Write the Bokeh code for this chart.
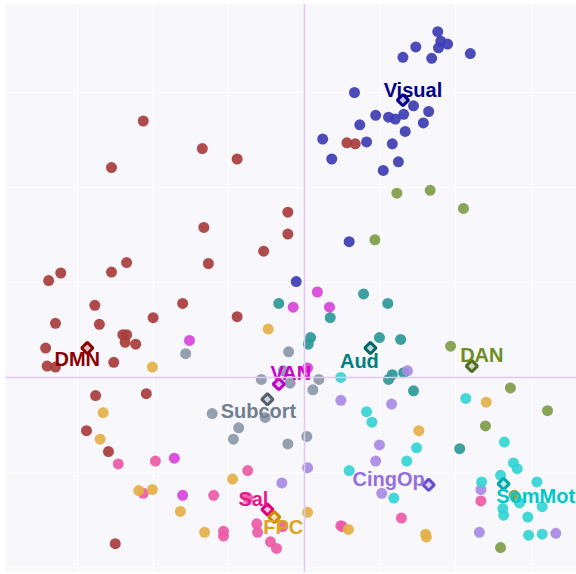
from bokeh.plotting import figure
from bokeh.models import ColumnDataSource, Range1d, FixedTicker, Span
from bokeh.core.properties import value
from bokeh.embed import file_html
from bokeh.resources import INLINE

# ---- region coordinates per network (gradient 1 on x, gradient 2 on y) ----
dmn_x = [-0.213, -0.255, -0.135, -0.089, -0.133, -0.127, -0.054, -0.022, -0.022, -0.338,
         -0.322, -0.255, -0.235, 0.056, 0.067, -0.277, -0.161, -0.329, -0.271, -0.200,
         -0.089, -0.240, -0.235, -0.237, -0.223, -0.342, -0.340, -0.329, -0.252, -0.276,
         -0.209, -0.288, -0.259, -0.250]
dmn_y = [0.270, 0.221, 0.241, 0.230, 0.158, 0.120, 0.133, 0.174, 0.151, 0.102,
         0.110, 0.111, 0.121, 0.247, 0.246, 0.076, 0.078, 0.057, 0.056, 0.063,
         0.064, 0.045, 0.045, 0.037, 0.035, 0.031, 0.012, 0.011, 0.016, -0.019,
         -0.017, -0.056, -0.078, -0.175]

visual_x = [0.176, 0.180, 0.189, 0.177, 0.147, 0.219, 0.130, 0.168, 0.066, 0.144,
            0.164, 0.094, 0.111, 0.120, 0.131, 0.157, 0.073, 0.133, 0.024, 0.082,
            0.116, 0.036, 0.124, 0.104, 0.059, -0.011]
visual_y = [0.364, 0.354, 0.351, 0.347, 0.348, 0.341, 0.337, 0.336, 0.300, 0.286,
            0.280, 0.276, 0.274, 0.272, 0.277, 0.268, 0.266, 0.259, 0.251, 0.248,
            0.246, 0.230, 0.227, 0.218, 0.143, 0.101]

dan_x = [0.122, 0.166, 0.210, 0.093, 0.193, 0.272, 0.321, 0.239, 0.259, 0.277]
dan_y = [0.194, 0.197, 0.178, 0.145, 0.033, -0.011, -0.035, -0.051, -0.179, -0.124]

aud_x = [-0.034, 0.078, 0.110, 0.034, 0.008, 0.005, 0.099, 0.127, 0.116, 0.111,
         0.131, 0.144, 0.205]
aud_y = [0.078, 0.088, 0.078, 0.063, 0.042, 0.035, 0.042, 0.040, 0.003, -0.002,
         0.005, -0.014, -0.075]

van_x = [-0.152, -0.172, -0.161, 0.017, -0.015, 0.033, 0.004]
van_y = [0.039, -0.085, -0.124, 0.090, 0.074, 0.074, 0.010]

subcort_x = [-0.157, -0.021, -0.057, -0.019, 0.019, 0.011, -0.122, -0.052, -0.087,
             -0.094, -0.022, 0.003, -0.028]
subcort_y = [0.025, 0.027, -0.002, -0.006, -0.002, -0.013, -0.038, -0.042, -0.053,
             -0.065, -0.070, -0.062, 0.007]

cingop_x = [0.136, 0.048, 0.115, 0.099, 0.094, 0.102, 0.004, -0.030, 0.233, 0.231, 0.332]
cingop_y = [0.007, -0.024, -0.028, -0.071, -0.088, -0.122, -0.095, -0.111, -0.118,
            -0.163, -0.164]

sommot_x = [0.048, 0.082, 0.089, 0.213, 0.148, 0.135, 0.059, 0.118, 0.264, 0.276,
            0.281, 0.259, 0.234, 0.307, 0.284, 0.314, 0.262, 0.263, 0.295, 0.296, 0.314]
sommot_y = [0.000, -0.036, -0.047, -0.022, -0.074, -0.088, -0.098, -0.127, -0.068,
            -0.090, -0.096, -0.103, -0.110, -0.110, -0.132, -0.136, -0.138, -0.145,
            -0.147, -0.166, -0.165]

sal_x = [-0.246, -0.197, -0.213, -0.120, -0.075, -0.075, -0.063, -0.062, -0.107,
         -0.107, -0.045, -0.037, 0.233, 0.128, 0.048, 0.050, -0.029]
sal_y = [-0.091, -0.088, -0.122, -0.124, -0.098, -0.127, -0.154, -0.163, -0.162,
         -0.167, -0.173, -0.180, -0.130, -0.148, -0.156, -0.157, -0.157]

fpc_x = [-0.048, -0.201, -0.266, -0.270, -0.219, -0.201, -0.095, -0.164, -0.132,
         0.004, 0.240, 0.151, 0.058, 0.160, 0.161]
fpc_y = [0.051, 0.011, -0.037, -0.065, -0.119, -0.118, -0.107, -0.141, -0.163,
         -0.142, -0.026, -0.056, -0.160, -0.165, -0.168]

# network centroids
networks = ["DMN", "Visual", "DAN", "Aud", "VAN", "Subcort", "CingOp", "SomMot", "Sal", "FPC"]
centroid_x = [-0.287, 0.130, 0.221, 0.087, -0.034, -0.049, 0.164, 0.263, -0.049, -0.040]
centroid_y = [0.031, 0.292, 0.012, 0.031, -0.007, -0.023, -0.113, -0.112, -0.139, -0.147]

grid_ticks_x = [-0.4, -0.3, -0.2, -0.1, 0.0, 0.1, 0.2, 0.3]
grid_ticks_y = [-0.2, -0.1, 0.0, 0.1, 0.2, 0.3]

points = {
    "DMN": (dmn_x, dmn_y), "Visual": (visual_x, visual_y), "DAN": (dan_x, dan_y),
    "Aud": (aud_x, aud_y), "VAN": (van_x, van_y), "Subcort": (subcort_x, subcort_y),
    "CingOp": (cingop_x, cingop_y), "SomMot": (sommot_x, sommot_y),
    "Sal": (sal_x, sal_y), "FPC": (fpc_x, fpc_y),
}

# colours: (dots, label text, centroid outline)
style = {
    "DMN": ("#a83c3c", "#8b0000", "#8b0000"),
    "Visual": ("#3c3cb4", "#00008b", "#00008b"),
    "DAN": ("#7f9c48", "#6b8e23", "#4f6b1f"),
    "Aud": ("#2c9898", "#008080", "#006666"),
    "VAN": ("#d843dc", "#cc00cc", "#c000c0"),
    "Subcort": ("#8a98a8", "#708090", "#56616e"),
    "CingOp": ("#a88ae4", "#9370db", "#6a4fc8"),
    "SomMot": ("#34d4d4", "#00c8c8", "#00a8a8"),
    "Sal": ("#ec5aa8", "#e8178a", "#e0007f"),
    "FPC": ("#e4b048", "#daa520", "#cc8800"),
}

# label placement relative to each centroid, in screen pixels
label_offset = {
    "DMN": (-10, 11), "Visual": (10, -10), "DAN": (10, -11), "Aud": (-11, 13),
    "VAN": (12, -11), "Subcort": (-9, 12), "CingOp": (-40, -6), "SomMot": (32, 12),
    "Sal": (-14, -11), "FPC": (9, 10),
}

p = figure(width=576, height=574, output_backend="svg", toolbar_location=None,
           x_range=Range1d(-0.395, 0.3593), y_range=Range1d(-0.2053, 0.3937),
           min_border_left=5, min_border_top=3, min_border_right=0, min_border_bottom=2)
p.background_fill_color = "#f7f7fc"
p.border_fill_color = "#ffffff"
p.outline_line_color = None
p.xaxis.ticker = FixedTicker(ticks=grid_ticks_x)
p.yaxis.ticker = FixedTicker(ticks=grid_ticks_y)
p.xaxis.visible = False
p.yaxis.visible = False
p.xgrid.grid_line_color = "#ffffff"
p.ygrid.grid_line_color = "#ffffff"
p.xgrid.grid_line_width = 1
p.ygrid.grid_line_width = 1

# zero lines
p.add_layout(Span(location=0, dimension="height", line_color="#e2c8f0", line_width=1.5))
p.add_layout(Span(location=0, dimension="width", line_color="#e2c8f0", line_width=1.5))

for name in networks:
    xs, ys = points[name]
    p.scatter(xs, ys, size=11, fill_color=style[name][0], fill_alpha=0.92,
              line_color=None)

cent = ColumnDataSource(dict(
    x=centroid_x, y=centroid_y, name=networks,
    line=[style[n][2] for n in networks],
    txt=[style[n][1] for n in networks],
    dx=[label_offset[n][0] for n in networks],
    dy=[label_offset[n][1] for n in networks],
))
p.scatter("x", "y", source=cent, marker="square", angle=0.785398, size=8,
          fill_color="line", fill_alpha=0.22, line_color="line", line_width=3)
p.text("x", "y", text="name", source=cent, x_offset="dx", y_offset="dy",
       text_align="center", text_baseline="middle", text_color="txt",
       text_font=value("Liberation Sans"), text_font_style="bold",
       text_font_size="20px")

open("out.html", "w").write(file_html(p, INLINE))
